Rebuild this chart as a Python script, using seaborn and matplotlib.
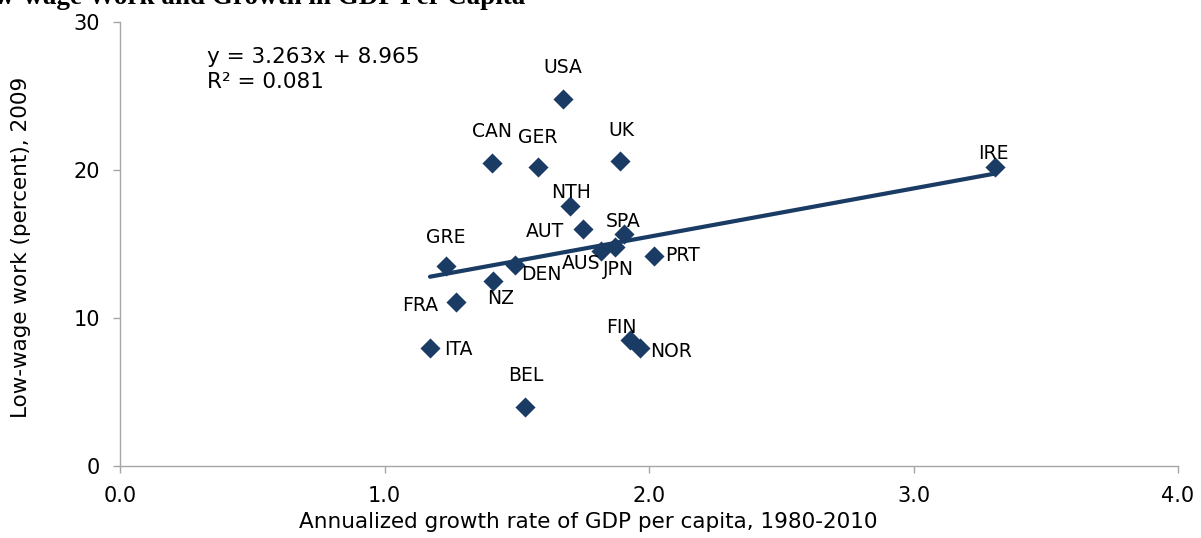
import matplotlib
matplotlib.use("Agg")
import matplotlib.pyplot as plt
import seaborn as sns
import pandas as pd
import numpy as np

# ---- data ----
countries = ["USA", "CAN", "GER", "UK", "NTH", "AUT", "SPA", "AUS", "JPN", "PRT",
             "GRE", "DEN", "NZ", "FRA", "ITA", "BEL", "FIN", "NOR", "IRE"]
gdp_growth = [1.675, 1.406, 1.58, 1.89, 1.70, 1.75, 1.905, 1.82, 1.87, 2.02,
              1.233, 1.493, 1.41, 1.27, 1.172, 1.53, 1.93, 1.966, 3.31]
low_wage = [24.8, 20.5, 20.2, 20.6, 17.6, 16.0, 15.7, 14.5, 14.8, 14.2,
            13.5, 13.6, 12.5, 11.1, 8.0, 4.0, 8.5, 8.0, 20.2]
trend_slope = 3.263
trend_intercept = 8.965
r_squared = 0.081
x_ticks = [0.0, 1.0, 2.0, 3.0, 4.0]
y_ticks = [0, 10, 20, 30]

title = "Low-wage Work and Growth in GDP Per Capita"
x_label = "Annualized growth rate of GDP per capita, 1980-2010"
y_label = "Low-wage work (percent), 2009"

# label centre offsets from marker (pixels, +y up) -- style only
label_offsets = {
    "USA": (0, 31), "CAN": (0, 31), "GER": (0, 30), "UK": (1, 31),
    "NTH": (1, 13), "AUT": (-38, -2), "SPA": (-1, 12), "AUS": (-20, -12),
    "JPN": (4, -23), "PRT": (28, 0), "GRE": (0, 29), "DEN": (26, -10),
    "NZ": (8, -18), "FRA": (-36, -4), "ITA": (28, -2), "BEL": (1, 31),
    "FIN": (-9, 13), "NOR": (31, -4), "IRE": (-2, 14),
}

df = pd.DataFrame({"country": countries, "gdp": gdp_growth, "lw": low_wage})

sns.set_theme(style="white")
plt.rcParams["font.family"] = ["DejaVu Sans"]

navy = "#1A3B64"
axis_grey = "#A6A6A6"

fig = plt.figure(figsize=(12.01, 5.38), dpi=100)
ax = fig.add_axes([120 / 1201, 72 / 538, 1058 / 1201, 444 / 538])

# trend line
xs = np.array([min(gdp_growth), max(gdp_growth)])
trend = pd.DataFrame({"gdp": xs, "lw": trend_slope * xs + trend_intercept})
sns.lineplot(data=trend, x="gdp", y="lw", ax=ax, color=navy, linewidth=3.0, zorder=2)

sns.scatterplot(data=df, x="gdp", y="lw", ax=ax, marker="D", s=105,
                color=navy, edgecolor=navy, linewidth=0, zorder=3)

for c, x, y in zip(countries, gdp_growth, low_wage):
    dx, dy = label_offsets[c]
    ax.annotate(c, (x, y), xytext=(dx, dy), textcoords="offset pixels",
                ha="center", va="center", fontsize=13.5, color="black", zorder=4)

ax.text(0.329, 27.64, f"y = {trend_slope}x + {trend_intercept}",
        fontsize=15.5, color="black", ha="left", va="center")
ax.text(0.329, 25.95, f"R\u00b2 = {r_squared}",
        fontsize=15.5, color="black", ha="left", va="center")

ax.set_xlim(0, 4)
ax.set_ylim(0, 30)
ax.set_xticks(x_ticks)
ax.set_xticklabels([f"{v:.1f}" for v in x_ticks])
ax.set_yticks(y_ticks)
ax.set_yticklabels([str(v) for v in y_ticks])

ax.set_xlabel(x_label, fontsize=15.5, color="black")
ax.set_ylabel(y_label, fontsize=15.5, color="black")
ax.xaxis.set_label_coords(0.443, -0.103)
ax.yaxis.set_label_coords(-0.084, 0.492)

for s in ["top", "right"]:
    ax.spines[s].set_visible(False)
for s in ["left", "bottom"]:
    ax.spines[s].set_color(axis_grey)
    ax.spines[s].set_linewidth(1.0)
ax.tick_params(axis="both", which="major", direction="out", length=5, width=1,
               color=axis_grey, labelsize=15, labelcolor="black", pad=9.5,
               bottom=True, left=True)
ax.grid(False)

fig.text(-37 / 1201, 1 - 4 / 538, title, fontsize=19.5, fontweight="bold",
         family="Liberation Serif", ha="left", va="baseline", color="black")

fig.savefig("out.png", dpi=100)
